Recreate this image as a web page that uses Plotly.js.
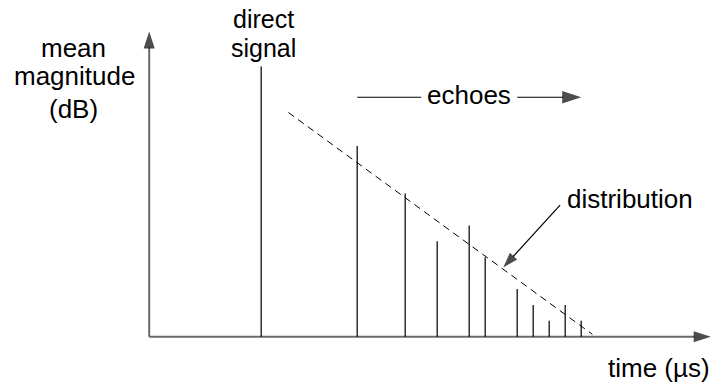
<!DOCTYPE html>
<html><head><meta charset="utf-8">
<script src="https://cdn.plot.ly/plotly-3.0.1.min.js"></script>
<style>html,body{margin:0;padding:0;background:#fff}#chart{width:718px;height:385px}</style>
</head><body><div id="chart"></div>
<script>
// ---- data (time in µs units, magnitude in dB units, schematic) ----
const directTime = [7];
const directMag = [17];
const echoTimes = [13, 16, 18, 20, 21, 23, 24, 25, 26, 27];
const echoMags = [12, 9, 6, 7, 5, 3, 2, 1, 2, 1];
const distTime = [8.7, 27.7];
const distMag = [14.1, 0.15];
const distArrowTime = [25.68, 22.13];
const distArrowMag = [8.28, 4.36];
const timeAxisEnd = 35.1;
const magAxisEnd = 19.2;
const echoLevel = 15.06;
const yLabelLines = ["mean", "magnitude", "(dB)"];
const directLabelLines = ["direct", "signal"];
const echoLabel = "echoes";
const distLabel = "distribution";
const xLabel = "time (µs)";

// ---- build traces ----
const allT = directTime.concat(echoTimes);
const allM = directMag.concat(echoMags);
const stemX = [], stemY = [];
allT.forEach((t, i) => { stemX.push(t, t, null); stemY.push(0, allM[i], null); });

const FAMILY = "Liberation Sans, Arial, Helvetica, sans-serif";
const FONT = {family: FAMILY, size: 26, color: "#000"};
const FONT_SM = {family: FAMILY, size: 25, color: "#000"};
const arrowMarker = (sz) => ({symbol: "arrow", angleref: "previous", size: [0, sz], color: "#000", line: {width: 0}});

const echoStart = echoTimes[0], echoEnd = echoTimes[echoTimes.length - 1];
const echoMid = (echoStart + echoEnd) / 2;

const traces = [
  {x: [0, timeAxisEnd], y: [0, 0], mode: "lines+markers", line: {color: "#6a6a6a", width: 2}, marker: arrowMarker(18), hoverinfo: "skip"},
  {x: [0, 0], y: [0, magAxisEnd], mode: "lines+markers", line: {color: "#6a6a6a", width: 2}, marker: arrowMarker(18), hoverinfo: "skip"},
  {x: stemX, y: stemY, mode: "lines", line: {color: "#111", width: 1.3}, hoverinfo: "skip"},
  {x: distTime, y: distMag, mode: "lines", line: {color: "#000", width: 1, dash: "7px,5px"}, hoverinfo: "skip"},
  {x: [echoStart, echoMid - 3], y: [echoLevel, echoLevel], mode: "lines", line: {color: "#000", width: 1.2}, hoverinfo: "skip"},
  {x: [echoMid + 3, echoEnd], y: [echoLevel, echoLevel], mode: "lines+markers", line: {color: "#000", width: 1.2}, marker: arrowMarker(20), hoverinfo: "skip"},
  {x: distArrowTime, y: distArrowMag, mode: "lines+markers", line: {color: "#000", width: 1.2}, marker: arrowMarker(16), hoverinfo: "skip"}
];

const ann = (text, x, y, xanchor, font) => ({text, x, y, xref: "x", yref: "y", xanchor: xanchor || "center", yanchor: "middle", showarrow: false, font: font || FONT});
const annotations = [
  ann(yLabelLines[0], -4.74, 18.18),
  ann(yLabelLines[1], -4.70, 16.40),
  ann(yLabelLines[2], -4.74, 14.30),
  ann(directLabelLines[0], 7.14, 19.96, "center", FONT_SM),
  ann(directLabelLines[1], 7.17, 18.17, "center", FONT_SM),
  ann(echoLabel, echoMid, 15.21),
  ann(distLabel, 25.98, 8.64, "left"),
  ann(xLabel, 35.2, -1.95, "right")
];

const layout = {
  width: 718, height: 385,
  margin: {l: 0, r: 0, t: 0, b: 0},
  paper_bgcolor: "#fff", plot_bgcolor: "#fff",
  showlegend: false,
  xaxis: {range: [-149.2 / 16, (718 - 149.2) / 16], visible: false, fixedrange: true},
  yaxis: {range: [(336.7 - 385) / 15.9, 336.7 / 15.9], visible: false, fixedrange: true},
  annotations
};
Plotly.newPlot("chart", traces, layout, {staticPlot: true, displayModeBar: false});
</script></body></html>
